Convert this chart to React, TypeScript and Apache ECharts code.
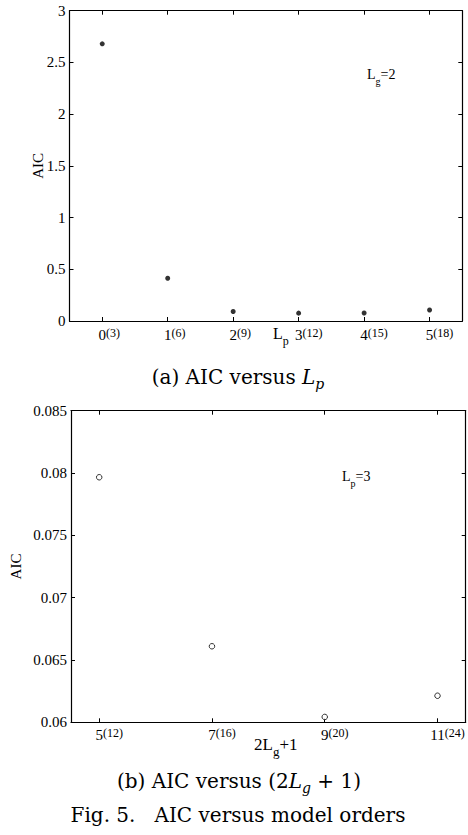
import React, { useEffect, useRef } from "react";
import * as echarts from "echarts";

// Panel (a): AIC versus L_p (L_g = 2)
const lpValues = [0, 1, 2, 3, 4, 5];
const lpOrders = [3, 6, 9, 12, 15, 18];
const lpAIC = [2.68, 0.413, 0.092, 0.076, 0.077, 0.106];
const lpYTicks = [0, 0.5, 1, 1.5, 2, 2.5, 3];

// Panel (b): AIC versus 2L_g+1 (L_p = 3)
const lgValues = [5, 7, 9, 11];
const lgOrders = [12, 16, 20, 24];
const lgAIC = [0.07966, 0.0661, 0.06043, 0.06213];
const lgYTicks = [0.06, 0.065, 0.07, 0.075, 0.08, 0.085];

const SERIF = "'Liberation Serif', 'Times New Roman', serif";
const CAPTION = "'DejaVu Serif', serif";

const tickRich: any = {
  m: { fontSize: 15, fontFamily: SERIF, color: "#000", lineHeight: 16, verticalAlign: "top" },
  p: { fontSize: 12, fontFamily: SERIF, color: "#000", verticalAlign: "top" },
};
// left paddings so that the main number stays centred on its tick
for (let n = 1; n <= 3; n++) {
  tickRich["m" + n] = { ...tickRich.m, padding: [0, 0, 0, 8 + 6 * n] };
}

const subRich = (size: number, drop: number) => ({
  m: { fontSize: size, fontFamily: SERIF, color: "#000", verticalAlign: "top", lineHeight: size + 1 },
  s: { fontSize: size - 4, fontFamily: SERIF, color: "#000", verticalAlign: "top", padding: [drop, 0, 0, 0] },
});

function xLabel(values: number[], orders: number[]) {
  return (v: number) => {
    const i = values.indexOf(Math.round(v));
    if (i < 0) return "";
    const o = String(orders[i]);
    return `{m${o.length}|${values[i]}}{p|(${o})}`;
  };
}

function boxAxes(gridIndex: number) {
  return {
    top: {
      gridIndex,
      position: "top",
      type: "value",
      axisLine: { show: true, onZero: false, lineStyle: { color: "#000", width: 1.2 } },
      axisTick: { show: true, inside: true, length: 4, lineStyle: { color: "#000" } },
      axisLabel: { show: false },
      splitLine: { show: false },
    },
    right: {
      gridIndex,
      position: "right",
      type: "value",
      axisLine: { show: true, onZero: false, lineStyle: { color: "#000", width: 1.2 } },
      axisTick: { show: true, inside: true, length: 4, lineStyle: { color: "#000" } },
      axisLabel: { show: false },
      splitLine: { show: false },
    },
  };
}

const CAP = 20;
const capRich = {
  r: { fontSize: CAP, fontFamily: CAPTION, color: "#000", verticalAlign: "top", lineHeight: 23 },
  i: { fontSize: CAP, fontFamily: CAPTION, fontStyle: "italic", color: "#000", verticalAlign: "top", lineHeight: 23 },
  is: { fontSize: 14, fontFamily: CAPTION, fontStyle: "italic", color: "#000", verticalAlign: "top", padding: [10, 0, 0, 0] },
};

export default function App() {
  const ref = useRef<HTMLDivElement>(null);

  useEffect(() => {
    if (!ref.current) return;
    const chart = echarts.init(ref.current, undefined, { renderer: "svg" });

    const axisLineStyle = { show: true, onZero: false, lineStyle: { color: "#000", width: 1.2 } };
    const tickStyle = { show: true, inside: true, length: 4, lineStyle: { color: "#000" } };
    const yLabelStyle = { color: "#000", fontSize: 15, fontFamily: SERIF, margin: 4 };

    const a = boxAxes(0);
    const b = boxAxes(1);

    const option: any = {
      animation: false,
      backgroundColor: "#fff",
      grid: [
        { left: 69.5, top: 10.7, width: 392.8, height: 310.3 },
        { left: 70, top: 410.7, width: 395.7, height: 311.6 },
      ],
      xAxis: [
        {
          gridIndex: 0,
          type: "value",
          position: "bottom",
          min: -0.5,
          max: 5.5,
          name: "{m|L}{s|p}",
          nameLocation: "middle",
          nameGap: 4,
          nameMoveOverlap: false,
          nameTextStyle: { rich: subRich(16, 10), padding: [0, 0, 0, 30], verticalAlign: "top" },
          axisLine: axisLineStyle,
          axisTick: { ...tickStyle, customValues: lpValues },
          axisLabel: {
            customValues: lpValues,
            formatter: xLabel(lpValues, lpOrders),
            rich: tickRich,
            margin: 6,
          },
          splitLine: { show: false },
        },
        { ...a.top, min: -0.5, max: 5.5, axisTick: { ...a.top.axisTick, customValues: lpValues } },
        {
          gridIndex: 1,
          type: "value",
          position: "bottom",
          min: 4.5,
          max: 11.5,
          name: "{m|2L}{s|g}{m|+1}",
          nameLocation: "middle",
          nameGap: 14,
          nameMoveOverlap: false,
          nameTextStyle: { rich: subRich(17, 9), padding: [0, 0, 0, 15], verticalAlign: "top" },
          axisLine: axisLineStyle,
          axisTick: { ...tickStyle, customValues: lgValues },
          axisLabel: {
            customValues: lgValues,
            formatter: xLabel(lgValues, lgOrders),
            rich: tickRich,
            margin: 5,
          },
          splitLine: { show: false },
        },
        { ...b.top, gridIndex: 1, min: 4.5, max: 11.5, axisTick: { ...b.top.axisTick, customValues: lgValues } },
      ],
      yAxis: [
        {
          gridIndex: 0,
          type: "value",
          position: "left",
          min: 0,
          max: 3,
          interval: 0.5,
          name: "AIC",
          nameLocation: "middle",
          nameGap: 24,
          nameMoveOverlap: false,
          nameTextStyle: { color: "#000", fontSize: 15, fontFamily: SERIF },
          axisLine: axisLineStyle,
          axisTick: { ...tickStyle, customValues: lpYTicks },
          axisLabel: { ...yLabelStyle, customValues: lpYTicks },
          splitLine: { show: false },
        },
        { ...a.right, min: 0, max: 3, axisTick: { ...a.right.axisTick, customValues: lpYTicks } },
        {
          gridIndex: 1,
          type: "value",
          position: "left",
          min: 0.06,
          max: 0.085,
          name: "AIC",
          nameLocation: "middle",
          nameGap: 48,
          nameMoveOverlap: false,
          nameTextStyle: { color: "#000", fontSize: 15, fontFamily: SERIF },
          axisLine: axisLineStyle,
          axisTick: { ...tickStyle, customValues: lgYTicks },
          axisLabel: {
            ...yLabelStyle,
            customValues: lgYTicks,
            formatter: (v: number) => String(+v.toFixed(3)),
          },
          splitLine: { show: false },
        },
        { ...b.right, gridIndex: 1, min: 0.06, max: 0.085, axisTick: { ...b.right.axisTick, customValues: lgYTicks } },
      ],
      series: [
        {
          type: "scatter",
          xAxisIndex: 0,
          yAxisIndex: 0,
          symbol: "circle",
          symbolSize: 5,
          itemStyle: { color: "#000" },
          data: lpValues.map((x, i) => [x, lpAIC[i]]),
        },
        {
          type: "scatter",
          xAxisIndex: 2,
          yAxisIndex: 2,
          symbol: "circle",
          symbolSize: 5.5,
          itemStyle: { color: "#fff", borderColor: "#000", borderWidth: 1 },
          data: lgValues.map((x, i) => [x, lgAIC[i]]),
        },
      ],
      graphic: [
        {
          type: "text",
          left: 367,
          top: 67,
          style: { text: "{m|L}{s|g}{m|=2}", rich: subRich(14, 9) },
        },
        {
          type: "text",
          left: 342,
          top: 469,
          style: { text: "{m|L}{s|p}{m|=3}", rich: subRich(14, 9) },
        },
        {
          type: "text",
          x: 238,
          y: 379,
          style: {
            text: "{r|(a) AIC versus }{i|L}{is|p}",
            align: "center",
            verticalAlign: "middle",
            rich: capRich,
          },
        },
        {
          type: "text",
          x: 239,
          y: 783,
          style: {
            text: "{r|(b) AIC versus (2}{i|L}{is|g}{r| + 1)}",
            align: "center",
            verticalAlign: "middle",
            rich: capRich,
          },
        },
        {
          type: "text",
          x: 238,
          y: 815,
          style: {
            text: "Fig. 5.   AIC versus model orders",
            align: "center",
            verticalAlign: "middle",
            fontSize: CAP,
            fontFamily: CAPTION,
            fill: "#000",
          },
        },
      ],
    };

    chart.setOption(option);
    return () => chart.dispose();
  }, []);

  return (
    <div
      ref={ref}
      style={{ position: "absolute", left: 0, top: 0, width: 468, height: 835, background: "#fff" }}
    />
  );
}
